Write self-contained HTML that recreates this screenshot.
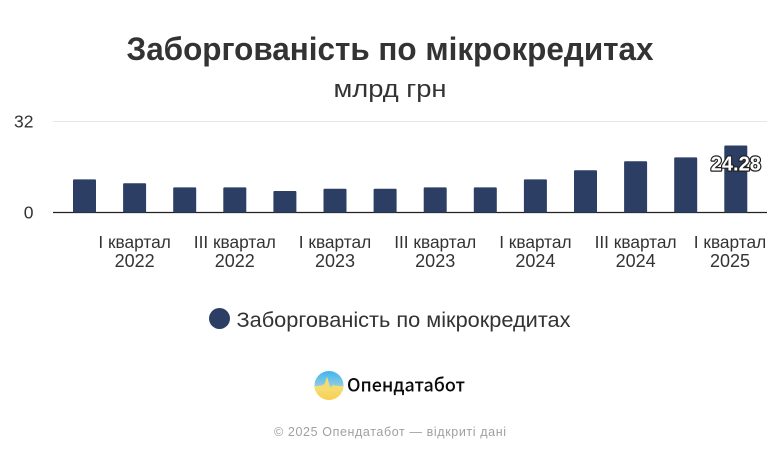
<!DOCTYPE html>
<html lang="uk">
<head>
<meta charset="utf-8">
<title>Заборгованість по мікрокредитах</title>
<style>
html,body{margin:0;padding:0;background:#fff;}
svg{display:block;font-family:"Liberation Sans","Noto Sans CJK SC",sans-serif;}
</style>
</head>
<body>
<svg id="chart" width="780" height="455" viewBox="0 0 780 455" xmlns="http://www.w3.org/2000/svg">
  <defs>
    <linearGradient id="logo-grad" x1="0" y1="0" x2="0" y2="1">
      <stop offset="0" stop-color="#3fb4f2"/>
      <stop offset="0.5" stop-color="#8ccbe0"/>
      <stop offset="0.6" stop-color="#f5dc70"/>
      <stop offset="1" stop-color="#f8cf4f"/>
    </linearGradient>
  </defs>
  <rect width="780" height="455" fill="#fff"></rect>
  <text x="390" y="60" text-anchor="middle" font-size="32" font-weight="700" fill="#333" textLength="527" lengthAdjust="spacingAndGlyphs">Заборгованість по мікрокредитах</text>
  <text x="390" y="97" text-anchor="middle" font-size="24" fill="#333" textLength="113" lengthAdjust="spacingAndGlyphs">млрд грн</text>
  <g id="grid"></g>
  <g id="bars"></g>
  <g id="xlabels"></g>
  <g id="value-labels"></g>
  <circle cx="219.5" cy="318.5" r="10.5" fill="#2c3e63"></circle>
  <text x="236.5" y="327" font-size="21" fill="#333" textLength="334" lengthAdjust="spacingAndGlyphs">Заборгованість по мікрокредитах</text>
  <g>
    <circle cx="329" cy="385.5" r="14.5" fill="url(#logo-grad)"></circle>
    <path d="M315 386 Q322 386 324.5 384 L327 376.5 L329.5 385 L331 388.5 L332.5 385 Q336 386 343 386 L343 391 L315 391 Z" fill="#f5dc70"></path>
    <text x="347" y="391.5" font-size="18.5" font-weight="500" fill="#0a0a0a" textLength="118" lengthAdjust="spacingAndGlyphs" style='font-family:"Noto Sans CJK SC","Liberation Sans",sans-serif'>Опендатабот</text>
  </g>
  <text x="390" y="436" text-anchor="middle" font-size="12.5" fill="#a0a0a0" textLength="232" lengthAdjust="spacing">© 2025 Опендатабот — відкриті дані</text>
</svg>
<script>
const categories = ["IV квартал 2021","I квартал 2022","II квартал 2022","III квартал 2022","IV квартал 2022","I квартал 2023","II квартал 2023","III квартал 2023","IV квартал 2023","I квартал 2024","II квартал 2024","III квартал 2024","IV квартал 2024","I квартал 2025"];
const seriesValues = [12.0,10.6,9.1,9.1,7.8,8.6,8.6,9.1,9.1,12.0,15.3,18.6,20.0,24.28];
const printedValues = [null,null,null,null,null,null,null,null,null,null,null,null,null,"24.28"];
const axisTicks = [0,33];
const tickLabels = ["0","32"];

const NS = "http://www.w3.org/2000/svg";
const plotLeft = 53, plotRight = 767, baseY = 212.5, topY = 121.5;
const firstCenter = 84.5, lastCenter = 735.8, barW = 23;
const yMax = axisTicks[axisTicks.length - 1];
function yScale(v){ return baseY - (v / yMax) * (baseY - topY); }
function xScale(i){ return firstCenter + i * (lastCenter - firstCenter) / (categories.length - 1); }
function mk(tag, attrs, parent, txt){
  const el = document.createElementNS(NS, tag);
  for (const k in attrs) el.setAttribute(k, attrs[k]);
  if (txt !== undefined) el.textContent = txt;
  parent.appendChild(el);
  return el;
}
const grid = document.getElementById("grid");
const bars = document.getElementById("bars");
const xl = document.getElementById("xlabels");
const vl = document.getElementById("value-labels");

axisTicks.forEach((t, i) => {
  const y = yScale(t);
  if (t !== 0) {
    const gl = mk("line", {x1: plotLeft, x2: plotRight, y1: y, y2: y, stroke: "#e6e6e6", "stroke-width": 1}, grid);
    
    
  }
  const lb = mk("text", {x: 33.5, y: y + 6, "text-anchor": "end", "font-size": 17.5, fill: "#333"}, grid, tickLabels[i]);
  
  
});

seriesValues.forEach((v, i) => {
  const y = yScale(v);
  const r = mk("rect", {x: xScale(i) - barW / 2, y: y, width: barW, height: baseY - y, rx: 1, fill: "#2c3e63"}, bars);
  
  
  if (printedValues[i] !== null) {
    const t = mk("text", {x: xScale(i), y: y + 25, "text-anchor": "middle", "font-size": 20, "font-weight": 700, fill: "#fff", stroke: "#222", "stroke-width": 2.4, "paint-order": "stroke", "stroke-linejoin": "round"}, vl, printedValues[i]);
    
    
  }
});

const axisLine = mk("line", {x1: plotLeft, x2: plotRight, y1: baseY, y2: baseY, stroke: "#222", "stroke-width": 1.2}, grid);



categories.forEach((c, i) => {
  if (i % 2 === 0) return;
  const idx = c.lastIndexOf(" ");
  const cx = Math.min(xScale(i), 730);
  const t1 = mk("text", {x: cx, y: 248, "text-anchor": "middle", "font-size": 17.3, fill: "#333"}, xl, c.slice(0, idx));
  
  
  const t2 = mk("text", {x: cx, y: 267, "text-anchor": "middle", "font-size": 18, fill: "#333"}, xl, c.slice(idx + 1));
  
  
});
</script>
</body>
</html>
